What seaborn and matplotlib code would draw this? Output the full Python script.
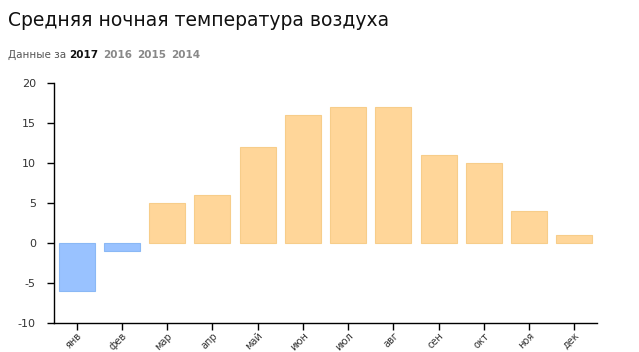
import matplotlib
matplotlib.use("Agg")
import matplotlib.pyplot as plt
import seaborn as sns
import pandas as pd

months = ["янв", "фев", "мар", "апр", "май", "июн", "июл", "авг", "сен", "окт", "ноя", "дек"]
temps = [-6, -1, 5, 6, 12, 16, 17, 17, 11, 10, 4, 1]
years = ["2017", "2016", "2015", "2014"]

sns.set_theme(style="white")
plt.rcParams['font.family'] = ['DejaVu Sans']
plt.rcParams['axes.unicode_minus'] = False

df = pd.DataFrame({"month": months, "temp": temps})
df["sign"] = ["neg" if t < 0 else "pos" for t in temps]

fig = plt.figure(figsize=(6.39, 3.52), dpi=100)
ax = fig.add_axes([54/639, 1-323/352, (597-54)/639, (323-83)/352])

sns.barplot(data=df, x="month", y="temp", hue="sign",
            palette={"neg": "#99c2ff", "pos": "#ffd699"}, saturation=1,
            dodge=False, width=0.8, legend=False, ax=ax,
            edgecolor=None, linewidth=0)
for p in ax.patches:
    fc = p.get_facecolor()
    p.set_edgecolor("#8ab8f5" if fc[2] > fc[0] else "#f7cd8a")
    p.set_linewidth(0.8)

ax.set_ylim(-10, 20)
ax.set_yticks([-10, -5, 0, 5, 10, 15, 20])
ax.set_xlim(-0.5, 11.5)
ax.set_xlabel("")
ax.set_ylabel("")
for s in ["top", "right"]:
    ax.spines[s].set_visible(False)
for s in ["left", "bottom"]:
    ax.spines[s].set_color("#000000")
    ax.spines[s].set_linewidth(1.0)
ax.tick_params(axis="both", which="both", length=5, width=1, color="#000000",
               labelsize=8, labelcolor="#333333", direction="out", left=True, bottom=True)
ax.tick_params(axis="y", pad=8)
ax.tick_params(axis="x", pad=0.5, labelsize=7)
plt.setp(ax.get_xticklabels(), rotation=45, ha="right", rotation_mode="anchor")

fig.text(8/639, 1-21/352, "Средняя ночная температура воздуха", fontsize=13.5,
         color="#111111", va="center", ha="left", fontweight="normal")
# subtitle
y_sub = 1-55/352
t = fig.text(8/639, y_sub, "Данные за ", fontsize=7.5, color="#555555", va="center", ha="left")
fig.canvas.draw()
r = fig.canvas.get_renderer()
x = t.get_window_extent(r).x1
for i, yr in enumerate(years):
    tt = fig.text(x/639, y_sub, yr, fontsize=7.5, fontweight="bold",
                  color="#111111" if i == 0 else "#888888", va="center", ha="left")
    fig.canvas.draw()
    x = tt.get_window_extent(r).x1 + 5

fig.savefig("out.png", dpi=100)
